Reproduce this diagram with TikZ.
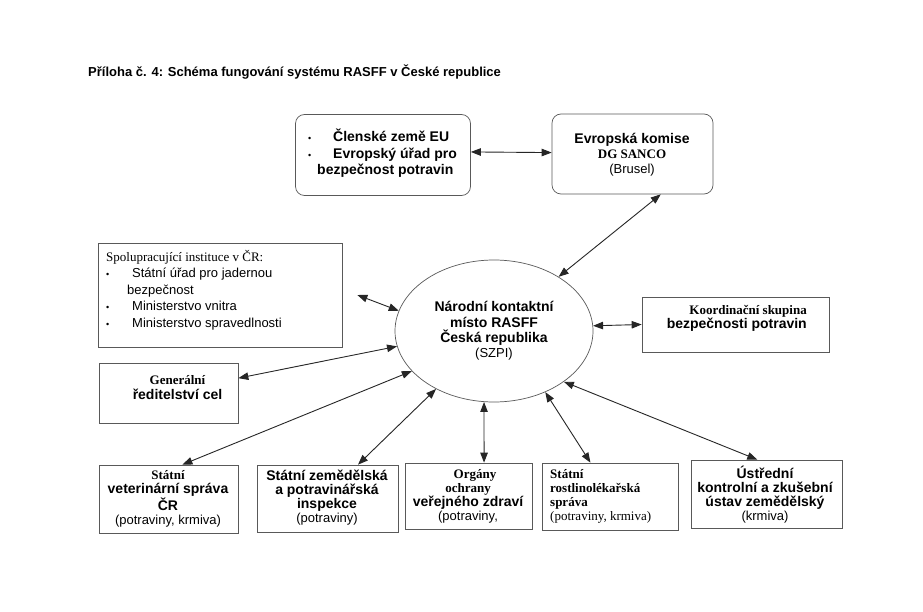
\documentclass[tikz,border=0pt]{standalone}
\usepackage{fontspec}
\setmainfont{Liberation Sans}
\newfontfamily\tnr{Liberation Serif}
\usetikzlibrary{arrows.meta,shapes.geometric}
\newcommand{\sansb}[1]{{\fontsize{14}{14.5}\selectfont\bfseries #1}}
\newcommand{\serb}[1]{{\tnr\bfseries #1}}
\newcommand{\serr}[1]{{\tnr #1}}
\newcommand{\bul}[1]{\makebox[#1][l]{\fontsize{9}{9}\selectfont\textbullet}}
\tikzset{
	box/.style={draw=black!65, line width=0.7pt, inner sep=0pt},
	rbox/.style={box, rounded corners=9pt},
	txt/.style={inner sep=0pt, align=center, font=\fontsize{13}{14}\selectfont},
	link/.style={draw=black!85, line width=0.9pt, {Triangle[length=10pt,width=7.5pt]}-{Triangle[length=10pt,width=7.5pt]}}
}

\begin{document}
\begin{tikzpicture}[x=1pt, y=-1pt]
			%%%%% START %%%%%
			\useasboundingbox[fill=white] (0, 0) rectangle (923, 612);
			
			\node[anchor=base west, inner sep=0pt, font=\fontsize{13}{14}\selectfont\bfseries] (title) at (88, 77) {Příloha č. 4: Schéma fungování systému RASFF v České republice};
			
			\node[rbox, minimum width=175, minimum height=81] (cle) at (383, 155) {};
			\node[txt, align=left, anchor=west, font=\fontsize{13}{16.5}\selectfont] (cle-t) at (308, 153.5) {\bul{25pt}\sansb{Členské země EU}\\ \bul{25pt}\sansb{Evropský úřad pro}\\ \hspace*{9pt}\sansb{bezpečnost potravin}};
			
			\node[rbox, minimum width=161, minimum height=80] (kom) at (632.5, 154) {};
			\node[txt, font=\fontsize{13}{15}\selectfont] (kom-t) at (632, 155) {\sansb{Evropská komise}\\ \serb{DG SANCO}\\ (Brusel)};
			
			\node[box, minimum width=244, minimum height=104] (spol) at (220, 295) {};
			\node[txt, align=left, anchor=west, font=\fontsize{13}{16.5}\selectfont] (spol-t) at (106, 290) {\serr{Spolupracující instituce v ČR:}\\ \bul{26pt}Státní úřad pro jadernou\\ \hspace*{21pt}bezpečnost\\ \bul{26pt}Ministerstvo vnitra\\ \bul{26pt}Ministerstvo spravedlnosti};
			
			\node[box, minimum width=187, minimum height=55] (koo) at (735.5, 324.5) {};
			\node[txt, align=right, anchor=east, font=\fontsize{13}{13.5}\selectfont] (koo-t) at (807, 318.5) {\serb{Koordinační skupina}\\ \sansb{bezpečnosti potravin}};
			
			\node[box, minimum width=139, minimum height=60] (gen) at (168.5, 393) {};
			\node[txt, font=\fontsize{13}{15}\selectfont] (gen-t) at (177.5, 387.5) {\serb{Generální}\\ \sansb{ředitelství cel}};
			
			\node[box, ellipse, minimum width=198, minimum height=142, font=\fontsize{13}{15.3}\selectfont, align=center] (nkm) at (494, 331) {\sansb{Národní kontaktní}\\ \sansb{místo RASFF}\\ \sansb{Česká republika}\\ (SZPI)};
			
			\node[box, minimum width=139, minimum height=68] (vet) at (168.5, 499) {};
			\node[txt] (vet-t) at (168, 499) {\serb{Státní}\\ \sansb{veterinární správa}\\ \sansb{ČR}\\ (potraviny, krmiva)};
			
			\node[box, minimum width=141, minimum height=67] (zem) at (327.5, 498.5) {};
			\node[txt] (zem-t) at (327, 498) {\sansb{Státní zemědělská}\\ \sansb{a potravinářská}\\ \sansb{inspekce}\\ (potraviny)};
			
			\node[box, minimum width=127, minimum height=66] (org) at (468.5, 496) {};
			\node[txt] (org-t) at (468, 496.5) {\hspace*{14pt}\serb{Orgány}\\ \serb{ochrany}\hspace*{28pt}\\ \sansb{veřejného zdraví}\\ (potraviny,};
			
			\node[box, minimum width=136, minimum height=67] (ros) at (610, 496.5) {};
			\node[txt, align=left, anchor=west] (ros-t) at (550, 496.5) {\serb{Státní}\\ \serb{rostlinolékařská}\\ \serb{správa}\\ \serr{(potraviny, krmiva)}};
			
			\node[box, minimum width=151, minimum height=68] (ust) at (766.5, 494) {};
			\node[txt] (ust-t) at (765, 495) {\sansb{Ústřední}\\ \sansb{kontrolní a zkušební}\\ \sansb{ústav zemědělský}\\ (krmiva)};
			
			\draw[link] (cle.2) -- (kom.179);
			\draw[link] (nkm.40) -- (kom.-55);
			\draw[link] ([xshift=15pt]spol.east) -- (nkm.168);
			\draw[link] (gen.12) -- (nkm.189);
			\draw[link] (nkm.3) -- (koo.west);
			
			\draw[link] (vet.68) -- (nkm.206);
			\draw[link] (zem.48) -- (nkm.225);
			\draw[link] (org.65) -- (nkm.262);
			\draw[link] (ros.120) -- (nkm.310);
			\draw[link] (ust.105) -- (nkm.324);
			%%%%% END %%%%%
\end{tikzpicture}
\end{document}
